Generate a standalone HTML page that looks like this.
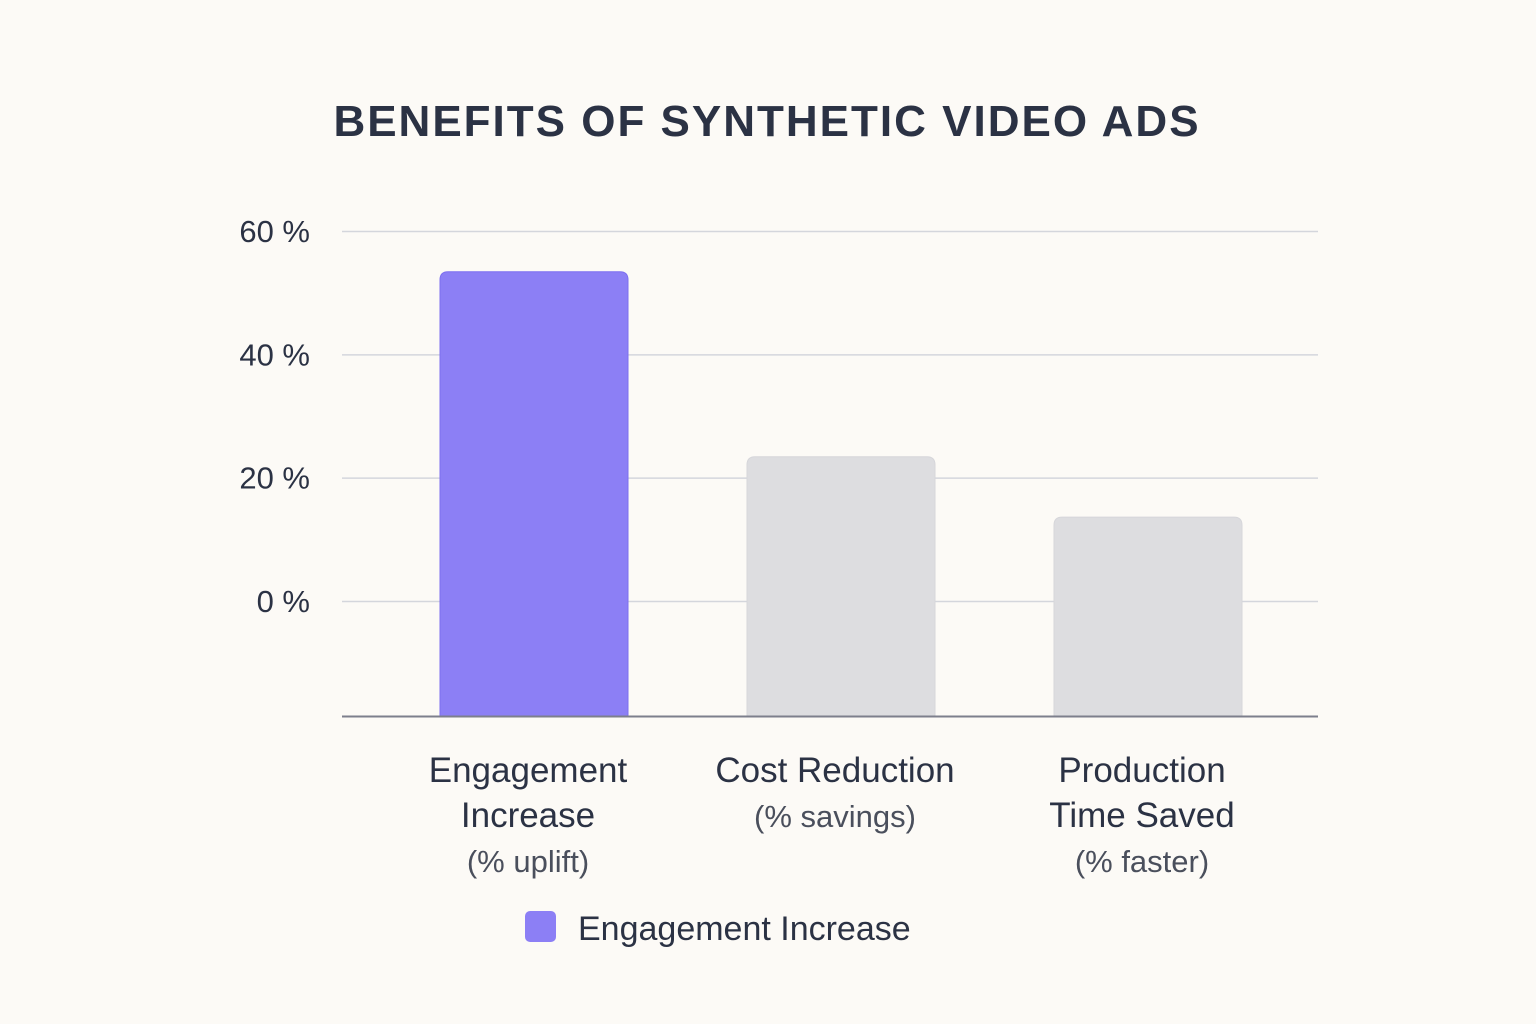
<!DOCTYPE html>
<html><head><meta charset="utf-8"><style>
body{margin:0;background:#fcfaf6;}
svg{display:block}
text{font-family:"Liberation Sans","DejaVu Sans",sans-serif;}
</style></head><body>
<svg id="chart" width="1536" height="1024" viewBox="0 0 1536 1024">
<rect width="1536" height="1024" fill="#fcfaf6"/>
<text x="767" y="136" text-anchor="middle" font-size="44" font-weight="bold" letter-spacing="2" fill="#2b3244">BENEFITS OF SYNTHETIC VIDEO ADS</text>
<g id="grid"></g><g id="bars"></g><g id="labels"></g>
<line x1="342" x2="1318" y1="716.5" y2="716.5" stroke="#7d7f8c" stroke-width="2"/>
<rect x="525" y="911" width="31" height="31" rx="5" fill="#8c7ff5"/>
<text x="578" y="940" font-size="34" fill="#2b3244">Engagement Increase</text>
</svg>
<script>
const categories=[["Engagement","Increase","(% uplift)"],["Cost Reduction","(% savings)"],["Production","Time Saved","(% faster)"]];
const values=[53.4,23.4,13.6];
const ticks=[0,20,40,60];
const tickLabels=["0 %","20 %","40 %","60 %"];
const NS="http://www.w3.org/2000/svg";
const y=v=>601-v*(370/60);
const yBase=716;
const x0=342,x1=1318,band=(x1-x0)/3.17,bw=188;
const xc=i=>534+i*307;
function mk(t,a,p){const e=document.createElementNS(NS,t);for(const k in a)e.setAttribute(k,a[k]);p.appendChild(e);return e;}
const grid=document.getElementById('grid'),bars=document.getElementById('bars'),labels=document.getElementById('labels');
ticks.forEach((t,i)=>{
 const l=mk('line',{x1:x0,x2:x1,y1:y(t)+0.5,y2:y(t)+0.5,stroke:'#d4d6dc','stroke-width':1.5},grid);
 
 
 const tx=mk('text',{x:310,y:y(t)+11,'text-anchor':'end','font-size':31,fill:'#2b3244'},grid);
 tx.textContent=tickLabels[i];
 
 
});
values.forEach((v,i)=>{
 const top=y(v);
 const r=mk('path',{d:`M${xc(i)-bw/2},${yBase} V${top+8} Q${xc(i)-bw/2},${top} ${xc(i)-bw/2+8},${top} H${xc(i)+bw/2-8} Q${xc(i)+bw/2},${top} ${xc(i)+bw/2},${top+8} V${yBase} Z`,fill:i==0?'#8c7ff5':'#dddde0',stroke:i==0?'#7d6ff0':'#d6d6da','stroke-width':1},bars);
 
 
 categories[i].forEach((s,j)=>{
  const last=j==categories[i].length-1&&s.startsWith('(');
  const t=mk('text',{x:xc(i)-6,y:782+j*45,'text-anchor':'middle','font-size':last?31:35,fill:last?'#4a4f5c':'#2b3244'},labels);
  t.textContent=s;
  
  
 });
});
</script>
</body></html>
